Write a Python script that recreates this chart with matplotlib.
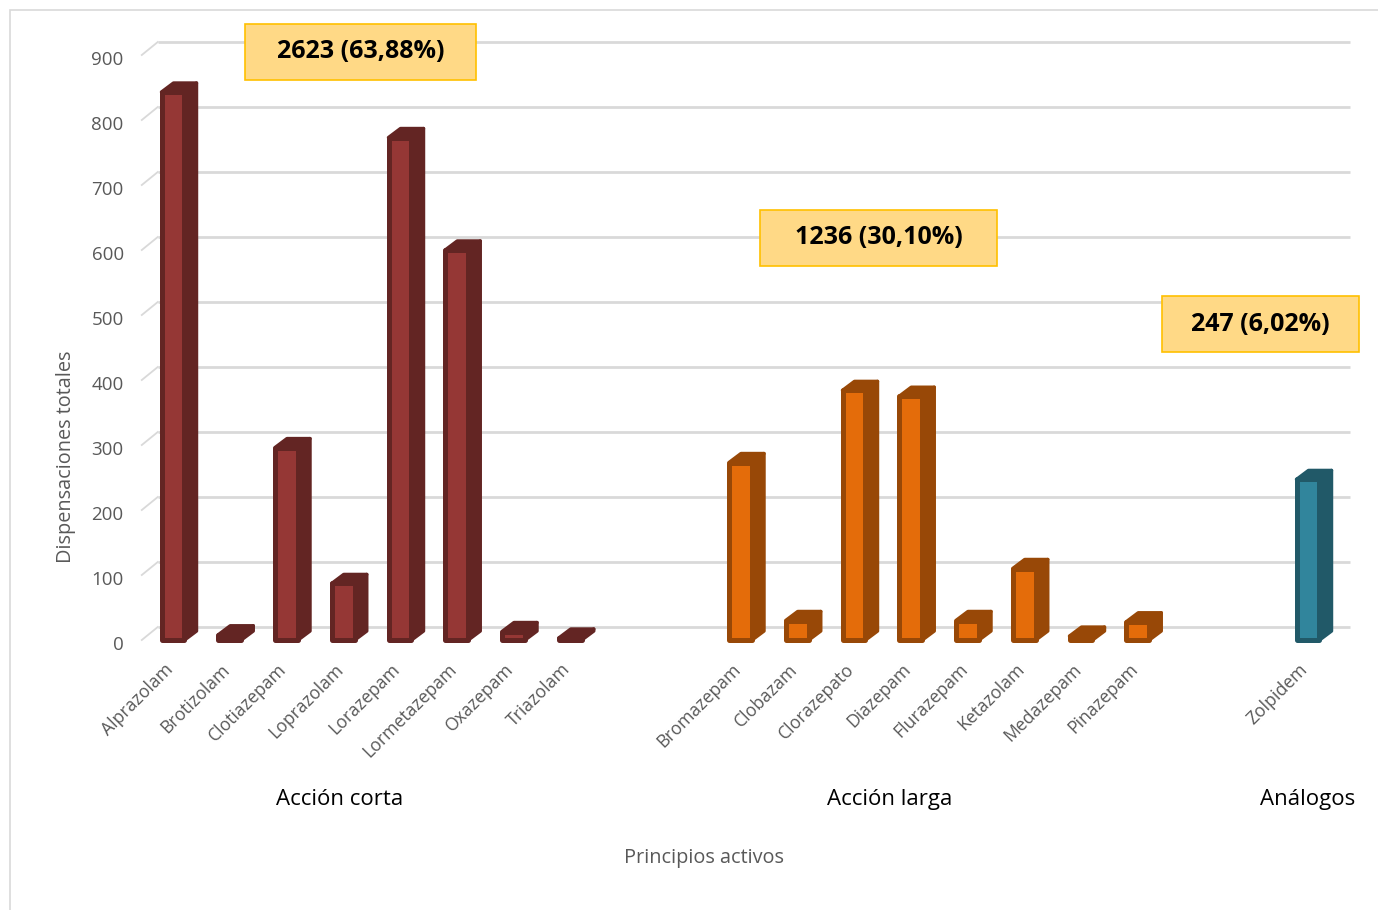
import matplotlib
matplotlib.use("Agg")
import matplotlib.pyplot as plt
from matplotlib.patches import Polygon, Rectangle
from matplotlib.transforms import ScaledTranslation
import numpy as np

# ---------------- data ----------------
short_names = ["Alprazolam", "Brotizolam", "Clotiazepam", "Loprazolam",
               "Lorazepam", "Lormetazepam", "Oxazepam", "Triazolam"]
short_vals = [843, 8, 296, 87, 773, 600, 13, 3]

long_names = ["Bromazepam", "Clobazam", "Clorazepato", "Diazepam",
              "Flurazepam", "Ketazolam", "Medazepam", "Pinazepam"]
long_vals = [273, 30, 384, 375, 30, 110, 6, 28]

analog_names = ["Zolpidem"]
analog_vals = [247]

group_labels = ["Acción corta", "Acción larga", "Análogos"]
group_boxes = ["2623 (63,88%)", "1236 (30,10%)", "247 (6,02%)"]

y_ticks = [0, 100, 200, 300, 400, 500, 600, 700, 800, 900]
y_label = "Dispensaciones totales"
x_label = "Principios activos"

# ---------------- style ----------------
colors = {
    "short": ("#953735", "#632523"),
    "long": ("#E46C0A", "#984807"),
    "analog": ("#31859C", "#215968"),
}
GRAY = "#595959"
GRID = "#D9D9D9"
FONT = ["Open Sans", "DejaVu Sans"]
plt.rcParams["font.family"] = FONT

W, H = 1378, 910
fig = plt.figure(figsize=(W / 100, H / 100), dpi=100)

# axes placement (pixels)
x0_px, slot_px = 173.0, 56.75
xlim = (-0.6, 20.9)
y0_px, ypx = 640.0, 0.65
ylim = (-5, 930)
left = (x0_px + slot_px * xlim[0]) / W
right = (x0_px + slot_px * xlim[1]) / W
top_px = y0_px - ypx * ylim[1]
bot_px = y0_px - ypx * ylim[0]
ax = fig.add_axes([left, 1 - bot_px / H, right - left, (bot_px - top_px) / H])
ax.set_xlim(*xlim)
ax.set_ylim(*ylim)
for s in ax.spines.values():
    s.set_visible(False)

# positions with two empty slots between groups
gap = 2
pos_short = np.arange(len(short_vals))
pos_long = pos_short[-1] + 1 + gap + np.arange(len(long_vals))
pos_an = pos_long[-1] + 1 + gap + np.arange(len(analog_vals))

# back wall offset
wall_dx = 16 / slot_px
wall_dy = 13 / ypx
for v in y_ticks:
    ax.plot([xlim[0] + 0.05 + wall_dx, 20.74], [v + wall_dy, v + wall_dy],
            color=GRID, lw=2, zorder=0, solid_capstyle="butt")
    ax.plot([xlim[0] + 0.05, xlim[0] + 0.05 + wall_dx], [v, v + wall_dy],
            color=GRID, lw=1.3, zorder=0)

ax.set_yticks(y_ticks)
ax.set_yticklabels([str(t) for t in y_ticks], color=GRAY, fontsize=13.5)
ax.tick_params(axis="y", length=0, pad=11)
yshift = ScaledTranslation(0, -2.5 / 72, fig.dpi_scale_trans)
for lab in ax.get_yticklabels():
    lab.set_transform(lab.get_transform() + yshift)

# bars
bw = 0.405
bdx = 12 / slot_px
bdy = 9 / ypx


def draw_bars(pos, vals, key):
    light, dark = colors[key]
    ax.bar(pos, vals, width=bw, color=light, edgecolor=dark, linewidth=3.6,
           zorder=3, joinstyle="round")
    for p, v in zip(pos, vals):
        xr = p + bw / 2
        xl = p - bw / 2
        side = Polygon([(xr, 0), (xr + bdx, bdy), (xr + bdx, v + bdy), (xr, v)],
                       closed=True, facecolor=dark, edgecolor=dark, lw=2.5,
                       joinstyle="round", zorder=2)
        topf = Polygon([(xl, v), (xl + bdx, v + bdy), (xr + bdx, v + bdy), (xr, v)],
                       closed=True, facecolor=dark, edgecolor=dark, lw=2.5,
                       joinstyle="round", zorder=4)
        ax.add_patch(side)
        ax.add_patch(topf)


draw_bars(pos_short, short_vals, "short")
draw_bars(pos_long, long_vals, "long")
draw_bars(pos_an, analog_vals, "analog")

# category labels
all_pos = list(pos_short) + list(pos_long) + list(pos_an)
all_names = short_names + long_names + analog_names
ax.set_xticks(all_pos)
ax.set_xticklabels(all_names, rotation=45, ha="right", va="center",
                   rotation_mode="anchor", color=GRAY, fontsize=12.7)
ax.tick_params(axis="x", length=0, pad=17)
shift = ScaledTranslation(-2 / 72, 0, fig.dpi_scale_trans)
for lab in ax.get_xticklabels():
    lab.set_transform(lab.get_transform() + shift)

# group labels
group_centers = [np.mean(pos_short) - 0.56, np.mean(pos_long) - 0.87, pos_an[0]]
for gx, gl in zip(group_centers, group_labels):
    ax.text(gx, -246, gl, ha="center", va="center", fontsize=16,
            color="black")

ax.text(9.36, -335, x_label, ha="center", va="center", fontsize=14.3,
        color=GRAY)
fig.text(66 / W, 1 - 457 / H, y_label, rotation=90, ha="center", va="center",
         fontsize=14.3, color=GRAY)

# annotation boxes (figure pixels)
box_specs = [(245, 24, 231, 56), (760, 210, 237, 56), (1162, 296, 197, 56)]
for (bx, by, bwid, bh), txt in zip(box_specs, group_boxes):
    fig.patches.append(Rectangle((bx / W, 1 - (by + bh) / H), bwid / W, bh / H,
                                 transform=fig.transFigure, facecolor="#FFD986",
                                 edgecolor="#FFC000", lw=1.2, zorder=5))
    fig.text((bx + bwid / 2) / W, 1 - (by + bh / 2) / H, txt, ha="center",
             va="center", fontsize=18, fontweight="bold", color="black",
             zorder=6)

# outer chart border
fig.patches.append(Rectangle((10 / W, -0.01), 1.02, 1 - 10 / H + 0.01,
                             transform=fig.transFigure, facecolor="none",
                             edgecolor="#D9D9D9", lw=1.2, zorder=0))

fig.savefig("out.png", dpi=100)
